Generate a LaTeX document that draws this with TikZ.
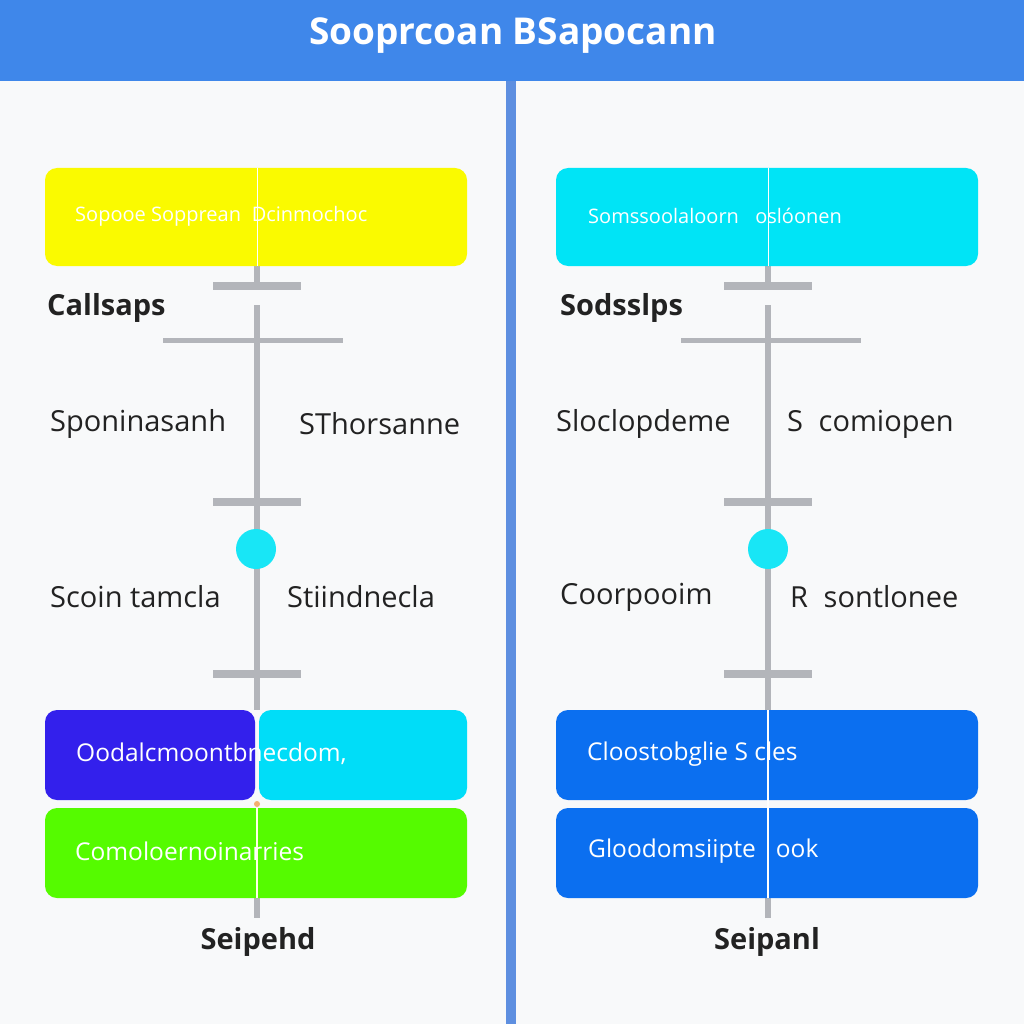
\documentclass[tikz,border=0pt]{standalone}
\usepackage{fontspec}
\setmainfont{Open Sans}
\definecolor{headblue}{HTML}{3F87EA}
\definecolor{divblue}{HTML}{5E8FE0}
\definecolor{pagebg}{HTML}{F8F9FA}
\definecolor{linegray}{HTML}{B3B5BA}
\definecolor{ybox}{HTML}{FAFA00}
\definecolor{cbox}{HTML}{00E4F6}
\definecolor{dotcyan}{HTML}{18E6F6}
\definecolor{violetbox}{HTML}{3320EC}
\definecolor{cyanbox}{HTML}{00DDF8}
\definecolor{greenbox}{HTML}{55FB00}
\definecolor{bluebox}{HTML}{0B6FF0}
\definecolor{txtdark}{HTML}{222222}
\definecolor{orangedot}{HTML}{F4B070}
\begin{document}
\begin{tikzpicture}[x=1pt,y=-1pt,
  boxtext/.style={anchor=west,text=white,font=\fontsize{20}{20}\selectfont,inner sep=0pt},
  boxtextb/.style={anchor=west,text=white,font=\fontsize{24.5}{24.5}\selectfont,inner sep=0pt},
  lbl/.style={anchor=west,text=txtdark,font=\fontsize{29}{29}\selectfont,inner sep=0pt},
  boldlbl/.style={text=txtdark,font=\fontsize{29}{29}\selectfont\bfseries,inner sep=0pt},
  bar/.style={draw=none,fill=linegray,minimum width=88pt,minimum height=8pt,inner sep=0pt},
  longbar/.style={draw=none,fill=linegray,minimum width=180pt,minimum height=5pt,inner sep=0pt},
  vline/.style={draw=linegray,line width=6pt},
  dot/.style={circle,fill=dotcyan,minimum size=40pt,inner sep=0pt},
  rbox/.style={rounded corners=12pt,draw=none}
]
\useasboundingbox (0,0) rectangle (1024,1024);
\fill[pagebg] (0,0) rectangle (1024,1024);
% header
\fill[headblue] (0,0) rectangle (1024,81);
\node[text=white,font=\fontsize{37}{37}\selectfont\bfseries,inner sep=0pt] (title) at (513,36) {Sooprcoan BSapocann};
% divider
\fill[divblue] (506,81) rectangle (516,1024);

%%%%%%%% LEFT PANEL
\node[bar] (Lb1) at (257,286) {};
\node[longbar] (Lb2) at (253,340) {};
\node[bar] (Lb3) at (257,502) {};
\node[bar] (Lb4) at (257,674) {};
\coordinate (Ltop) at (257,266);
\coordinate (Lgap) at (257,305);
\coordinate (Lbot) at (257,710);
\draw[vline] (Ltop) -- (Lb1.center);
\draw[vline] (Lgap) -- (Lbot);
\fill[linegray] (254,898) rectangle (260,918);
\node[dot] (Ldot) at (256,549) {};

\fill[ybox,rbox] (45,168) rectangle (467,266);
\draw[white,line width=1pt] (257,168) -- (257,266);
\node[boxtext] (Lt) at (75,216) {Sopooe Sopprean\; Dcinmochoc};

\node[boldlbl,anchor=west] (Lhead) at (47,308) {Callsaps};
\node[lbl] (L1) at (50,424) {Sponinasanh};
\node[lbl] (L2) at (299,424) {SThorsanne};
\node[lbl] (L3) at (50,597) {Scoin tamcla};
\node[lbl] (L4) at (287,597) {Stiindnecla};

\fill[violetbox,rbox] (45,710) rectangle (255,800);
\fill[cyanbox,rbox] (259,710) rectangle (467,800);
\fill[greenbox,rbox] (45,808) rectangle (467,898);
\draw[white!90!yellow,line width=1.2pt] (257,808) -- (257,898);
\fill[orangedot] (257,804) circle (3pt);
\node[boxtextb] (Lb) at (76,754) {Oodalcmoontbnecdom,};
\node[boxtextb] (Lg) at (75,851) {Comoloernoinarries};
\node[boldlbl] (Lfoot) at (258,942) {Seipehd};

%%%%%%%% RIGHT PANEL
\node[bar] (Rb1) at (768,286) {};
\node[longbar] (Rb2) at (771,340) {};
\node[bar] (Rb3) at (768,502) {};
\node[bar] (Rb4) at (768,674) {};
\coordinate (Rtop) at (768,266);
\coordinate (Rgap) at (768,305);
\coordinate (Rbot) at (768,710);
\draw[vline] (Rtop) -- (Rb1.center);
\draw[vline] (Rgap) -- (Rbot);
\fill[linegray] (765,898) rectangle (771,918);
\node[dot] (Rdot) at (768,549) {};

\fill[cbox,rbox] (556,168) rectangle (978,266);
\draw[white,line width=1pt] (768,168) -- (768,266);
\node[boxtext] (Rt) at (588,216) {Somssoolaloorn\;\; oslóonen};

\node[boldlbl,anchor=west] (Rhead) at (560,308) {Sodsslps};
\node[lbl] (R1) at (556,424) {Sloclopdeme};
\node[lbl] (R2) at (787,424) {S\; comiopen};
\node[lbl] (R3) at (560,597) {Coorpooim};
\node[lbl] (R4) at (790,597) {R\; sontlonee};

\fill[bluebox,rbox] (556,710) rectangle (978,800);
\fill[bluebox,rbox] (556,808) rectangle (978,898);
\draw[white,line width=1.2pt] (768,710) -- (768,898);
\node[boxtextb] (Rb) at (587,754) {Cloostobglie S cles};
\node[boxtextb] (Rg) at (588,851) {Gloodomsiipte\;\; ook};
\node[boldlbl] (Rfoot) at (767,942) {Seipanl};
\end{tikzpicture}
\end{document}
